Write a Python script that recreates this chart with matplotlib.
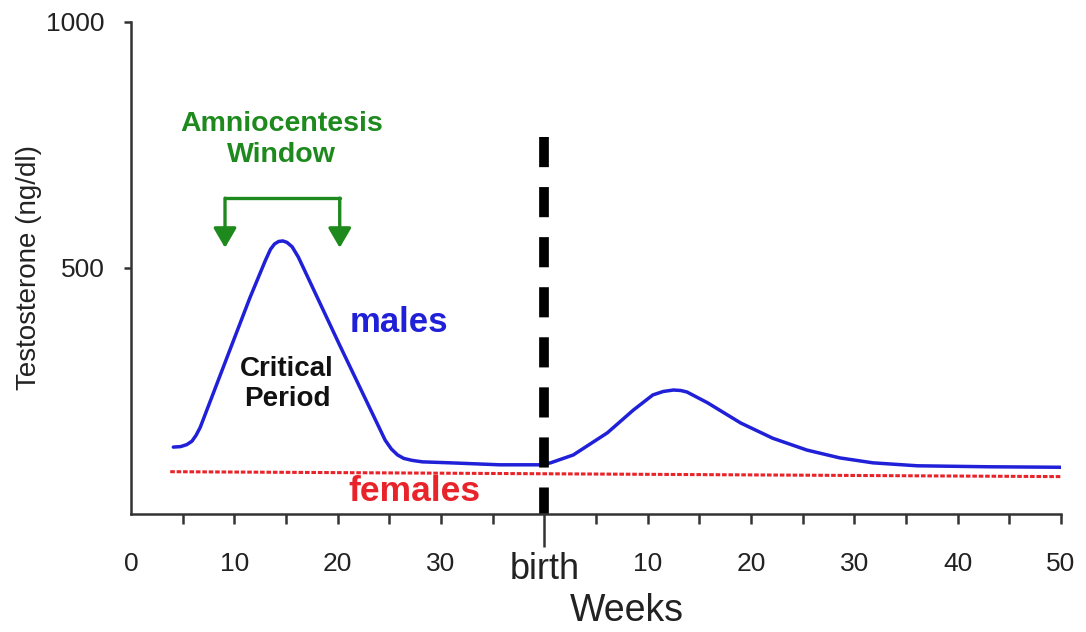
import matplotlib
matplotlib.use("Agg")
import matplotlib.pyplot as plt

plt.rcParams['font.family'] = ['Liberation Sans', 'DejaVu Sans']

# weeks: 0-40 before birth, 40-90 = 0-50 weeks after birth
male_weeks = [4.1, 4.8, 5.4, 5.9, 6.3, 6.7, 9.8, 11.5, 13.0, 13.5, 13.9, 14.3, 14.7,
              15.1, 15.6, 16.2, 20.2, 24.6, 25.2, 25.8, 26.4, 27.2, 28.2, 30.9, 35.7,
              39.6, 40.6, 42.8, 46.1, 48.6, 50.5, 51.5, 52.5, 53.2, 53.8, 55.8, 59.0,
              62.1, 65.4, 68.6, 71.8, 76.1, 83.0, 90.0]
male_vals = [136, 137, 141, 148, 160, 176, 346, 439, 515, 538, 549, 554, 555,
             552, 543, 522, 343, 150, 132, 120, 113, 109, 106, 104, 100,
             100, 104, 120, 165, 211, 242, 249, 252, 251, 248, 226, 185,
             154, 130, 114, 104, 98, 96, 95]
female_weeks = [3.8, 90.0]
female_vals = [86, 76]

tick_pos = [0, 10, 20, 30, 40, 50, 60, 70, 80, 90]
tick_labels = ['0', '10', '20', '30', 'birth', '10', '20', '30', '40', '50']
minor_pos = [5, 15, 25, 35, 45, 55, 65, 75, 85]
birth_week = 40
window = [9.1, 20.2]

blue = '#2020d8'
red = '#e8242a'
green = '#1e8a1e'
axc = '#333333'

fig = plt.figure(figsize=(10.86, 6.32), dpi=100)
ax = fig.add_axes([0.1206, 0.1867, 0.977 - 0.1206, 0.9652 - 0.1867])

ax.plot(female_weeks, female_vals, color=red, lw=2.2, ls=(0, (1.5, 0.6)))
ax.plot(male_weeks, male_vals, color=blue, lw=2.5, solid_capstyle='round',
        solid_joinstyle='round')
ax.plot([birth_week, birth_week], [766, 0], color='black', lw=7, ls=(0, (3.1, 2.05)))

# amniocentesis bracket
ax.plot([window[0], window[1]], [642, 642], color=green, lw=2.4, solid_capstyle='round')
for wx in window:
    ax.annotate('', xy=(wx, 541), xytext=(wx, 642),
                arrowprops=dict(arrowstyle='-|>,head_length=0.6,head_width=0.35',
                                color=green, lw=2.4, shrinkA=0, shrinkB=0,
                                mutation_scale=20))

ax.text(14.6, 762, 'Amniocentesis\nWindow', color=green, fontsize=20.5,
        fontweight='bold', ha='center', va='center', linespacing=1.25)
ax.text(15.1, 265, 'Critical\nPeriod', color='#111111', fontsize=20,
        fontweight='bold', ha='center', va='center', linespacing=1.2)
ax.text(25.9, 390, 'males', color=blue, fontsize=25, fontweight='bold',
        ha='center', va='center')
ax.text(27.4, 45, 'females', color=red, fontsize=25.5, fontweight='bold',
        ha='center', va='center')

ax.set_xlim(0, 90)
ax.set_ylim(0, 1000)
for s in ['top', 'right']:
    ax.spines[s].set_visible(False)
for s in ['left', 'bottom']:
    ax.spines[s].set_color(axc)
    ax.spines[s].set_linewidth(1.8)

ax.set_xticks(tick_pos)
ax.set_xticklabels(tick_labels)
ax.set_xticks(minor_pos, minor=True)
ax.set_yticks([500, 1000])
ax.tick_params(axis='x', which='both', direction='out', length=7, width=1.8,
               color=axc, labelsize=19, pad=20, labelcolor='#222222')
ax.tick_params(axis='y', direction='out', length=5, width=1.8, color=axc,
               labelsize=19, pad=14, labelcolor='#222222')
ax.xaxis.get_major_ticks()[0].tick1line.set_visible(False)
ax.xaxis.get_major_ticks()[4].tick1line.set_markersize(24)
ax.get_xticklabels()[4].set_fontsize(26)

ax.set_xlabel('Weeks', fontsize=27, color='#222222', labelpad=5)
ax.xaxis.label.set_x(0.533)
ax.set_ylabel('Testosterone (ng/dl)', fontsize=20, color='#222222', labelpad=3)

fig.savefig('out.png', dpi=100)
